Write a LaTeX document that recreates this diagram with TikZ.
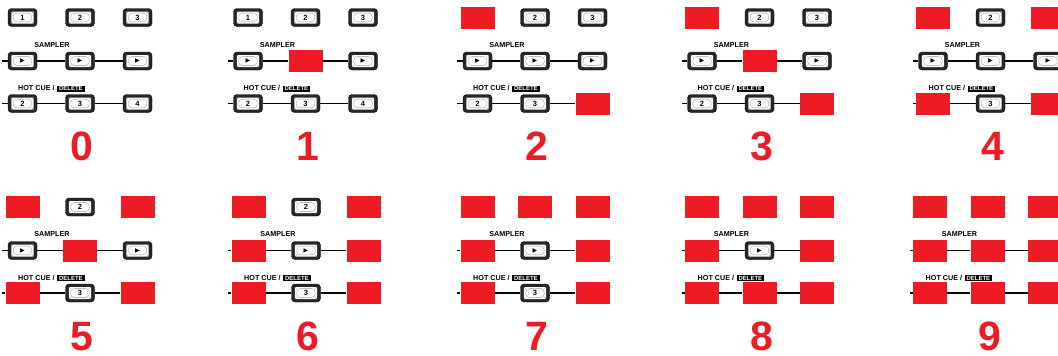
\documentclass[tikz,border=0pt]{standalone}
\usepackage{fontspec}
\setmainfont{Liberation Sans}
\newfontfamily\symfont{DejaVu Sans}
\definecolor{padred}{HTML}{ED1C24}
\definecolor{keydark}{HTML}{262626}
\definecolor{bevel}{HTML}{9A9A9A}
\newcommand\playsym{{\symfont\fontsize{6}{6}\selectfont ▶}}
\tikzset{
  padkey/.style={rectangle, rounded corners=3.5pt, fill=keydark, draw=black, line width=0.4pt,
    minimum width=29pt, minimum height=18pt, inner sep=0pt, text=black,
    font=\bfseries\fontsize{7.5}{7.5}\selectfont,
    path picture={
      \fill[white, rounded corners=1pt] ([shift={(3.3pt,3pt)}]path picture bounding box.south west)
        rectangle ([shift={(-3.3pt,-3pt)}]path picture bounding box.north east);
      \draw[bevel, line width=0.35pt] ([shift={(5.3pt,4.6pt)}]path picture bounding box.south west)
        rectangle ([shift={(-5.3pt,-4.6pt)}]path picture bounding box.north east);
      \draw[bevel, line width=0.3pt]
        ([shift={(3.3pt,3pt)}]path picture bounding box.south west) -- ([shift={(5.3pt,4.6pt)}]path picture bounding box.south west)
        ([shift={(-3.3pt,3pt)}]path picture bounding box.south east) -- ([shift={(-5.3pt,4.6pt)}]path picture bounding box.south east)
        ([shift={(3.3pt,-3pt)}]path picture bounding box.north west) -- ([shift={(5.3pt,-4.6pt)}]path picture bounding box.north west)
        ([shift={(-3.3pt,-3pt)}]path picture bounding box.north east) -- ([shift={(-5.3pt,-4.6pt)}]path picture bounding box.north east);
    }},
  redkey/.style={rectangle, fill=padred, minimum width=34pt, minimum height=22pt, inner sep=0pt},
  wire/.style={line width=1.1pt, black},
  rowlabel/.style={font=\bfseries\fontsize{7.2}{7.2}\selectfont, inner sep=0pt, anchor=base},
  delbox/.style={fill=black, text=white, font=\bfseries\fontsize{6}{6}\selectfont,
    inner xsep=2pt, inner ysep=0.9pt, anchor=base west},
  bignum/.style={text=padred, font=\bfseries\fontsize{41}{41}\selectfont, inner sep=0pt, anchor=base}
}
\def\setstates#1#2#3#4#5#6#7#8#9\relax{\def\sA{#1}\def\sB{#2}\def\sC{#3}\def\sD{#4}\def\sE{#5}\def\sF{#6}\def\sG{#7}\def\sH{#8}\def\sI{#9}}
\newcommand\keycell[4]{\if#3r\node[redkey] (#1) at (#2) {};\else\node[padkey] (#1) at (#2) {#4};\fi}
\newcommand\drawpanel[5]{%
  \def\pX{#1}\def\pY{#2}%
  \setstates#5\relax
  \keycell{#4a}{\pX+22.5,\pY+17.5}{\sA}{1}
  \keycell{#4b}{\pX+80,\pY+17.5}{\sB}{2}
  \keycell{#4c}{\pX+137.5,\pY+17.5}{\sC}{3}
  \keycell{#4d}{\pX+22.5,\pY+61}{\sD}{\playsym}
  \keycell{#4e}{\pX+80,\pY+61}{\sE}{\playsym}
  \keycell{#4f}{\pX+137.5,\pY+61}{\sF}{\playsym}
  \keycell{#4g}{\pX+22.5,\pY+103.5}{\sG}{2}
  \keycell{#4h}{\pX+80,\pY+103.5}{\sH}{3}
  \keycell{#4i}{\pX+137.5,\pY+103.5}{\sI}{4}
  \coordinate (#4s2) at (\pX+2,\pY+61);
  \coordinate (#4s3) at (\pX+2,\pY+103.5);
  \draw[wire] (#4s2) -- (#4d) -- (#4e) -- (#4f);
  \draw[wire] (#4s3) -- (#4g) -- (#4h) -- (#4i);
  \node[rowlabel] (#4sl) at (\pX+52,\pY+47.3) {SAMPLER};
  \node[rowlabel, anchor=base west] (#4hl) at (\pX+18,\pY+90.7) {HOT CUE /};
  \node[delbox] (#4dl) at ([xshift=2pt]#4hl.base east) {DELETE};
  \node[bignum] (#4n) at (\pX+82,\pY+160.5) {#3};
}
\begin{document}
\begin{tikzpicture}[x=1pt,y=-1pt]
  \useasboundingbox (0,0) rectangle (1058,356);
  \clip (0,0) rectangle (1058,356);
  \drawpanel{0}{0}{0}{pa}{bbbbbbbbb}
  \drawpanel{225.5}{0}{1}{pb}{bbbbrbbbb}
  \drawpanel{455}{0}{2}{pc}{rbbbbbbbr}
  \drawpanel{679.5}{0}{3}{pd}{rbbbrbbbr}
  \drawpanel{910.5}{0}{4}{pe}{rbrbbbrbr}
  \drawpanel{0}{189.5}{5}{pf}{rbrbrbrbr}
  \drawpanel{226}{189.5}{6}{pg}{rbrrbrrbr}
  \drawpanel{455}{189.5}{7}{ph}{rrrrbrrbr}
  \drawpanel{679.5}{189.5}{8}{pi}{rrrrbrrrr}
  \drawpanel{907.5}{189.5}{9}{pj}{rrrrrrrrr}
\end{tikzpicture}
\end{document}
